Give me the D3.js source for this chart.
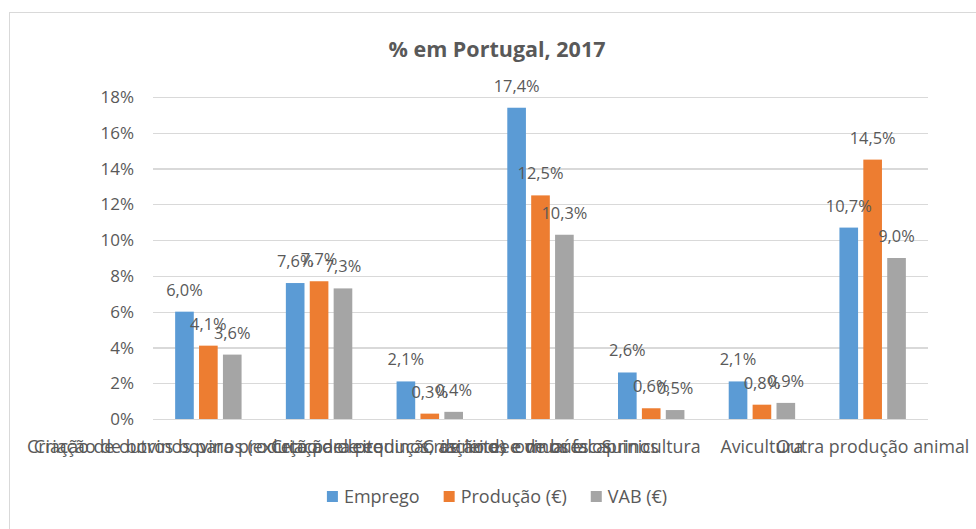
<!DOCTYPE html>
<html>
<head>
<meta charset="utf-8">
<style>
body { margin: 0; background: #fff; }
text { font-family: "Open Sans", sans-serif; fill: #595959; }
.grid line { stroke: #d9d9d9; stroke-width: 1.3; shape-rendering: crispEdges; }
.grid path { stroke-width: 0; }
</style>
<title>% em Portugal, 2017</title>
</head>
<body>
<script src="https://d3js.org/d3.v7.min.js"></script>
<script>

// data
var categories = [
  "Criação de bovinos para produção de leite",
  "Criação de outros bovinos (exceto para produção de leite) e de búfalos",
  "Criação de equinos, asininos e muares",
  "Criação de ovinos e caprinos",
  "Suinicultura",
  "Avicultura",
  "Outra produção animal"
];
var series = ["Emprego", "Produção (€)", "VAB (€)"];
var emprego  = [6.0, 7.6, 2.1, 17.4, 2.6, 2.1, 10.7];
var producao = [4.1, 7.7, 0.3, 12.5, 0.6, 0.8, 14.5];
var vab      = [3.6, 7.3, 0.4, 10.3, 0.5, 0.9, 9.0];
var yTicks = [0, 2, 4, 6, 8, 10, 12, 14, 16, 18];

var colors = ["#5b9bd5", "#ed7d31", "#a5a5a5"];
var values = [emprego, producao, vab];

const width = 976, height = 529;
const plot = {left: 153, right: 928, top: 97, bottom: 419};

var svg = d3.select("body").append("svg")
    .attr("width", width)
    .attr("height", height);

svg.append("rect")
    .attr("width", width).attr("height", height)
    .attr("fill", "#fff");

// chart frame (runs off the right and bottom edge)
svg.append("rect")
    .attr("x", 9.5).attr("y", 12.5)
    .attr("width", 1000).attr("height", 540)
    .attr("fill", "none")
    .attr("stroke", "#d9d9d9");

var x0 = d3.scaleBand()
    .domain(categories)
    .range([plot.left, plot.right]);

var bw = x0.bandwidth();
var x1 = d3.scaleBand()
    .domain(series)
    .range([bw * 0.2, bw * 0.8])
    .paddingInner(0.22);

var y = d3.scaleLinear()
    .domain([0, 18])
    .range([plot.bottom, plot.top]);

// gridlines
svg.append("g")
    .attr("class", "grid")
    .attr("transform", "translate(" + plot.left + ",0)")
    .call(d3.axisLeft(y).tickValues(yTicks)
        .tickSize(-(plot.right - plot.left))
        .tickFormat(""));

// y tick labels
svg.append("g")
  .selectAll("text")
    .data(yTicks)
  .enter().append("text")
    .attr("x", 134)
    .attr("y", d => y(d))
    .attr("dy", "0.36em")
    .attr("text-anchor", "end")
    .style("font-size", "17px")
    .text(d => d + "%");

// bars
var rows = [];
categories.forEach(function(c, i) {
  series.forEach(function(s, j) {
    rows.push({cat: c, ser: s, v: values[j][i], col: colors[j]});
  });
});

svg.append("g")
  .selectAll("rect")
    .data(rows)
  .enter().append("rect")
    .attr("x", d => x0(d.cat) + x1(d.ser))
    .attr("width", x1.bandwidth())
    .attr("y", d => y(d.v))
    .attr("height", d => y(0) - y(d.v))
    .attr("fill", d => d.col);

// data labels
svg.append("g")
  .selectAll("text")
    .data(rows)
  .enter().append("text")
    .attr("x", d => x0(d.cat) + x1(d.ser) + x1.bandwidth() / 2)
    .attr("y", d => y(d.v) - 16)
    .attr("text-anchor", "middle")
    .style("font-size", "16.4px")
    .text(d => d.v.toFixed(1).replace(".", ",") + "%");

// category labels (they overlap, as in the original)
svg.append("g")
  .selectAll("text")
    .data(categories)
  .enter().append("text")
    .attr("x", d => x0(d) + bw / 2)
    .attr("y", 453)
    .attr("text-anchor", "middle")
    .style("font-size", "17.8px")
    .text(d => d);

// title
svg.append("text")
    .attr("x", 497)
    .attr("y", 57)
    .attr("text-anchor", "middle")
    .style("font-size", "21.5px")
    .style("font-weight", "bold")
    .text("% em Portugal, 2017");

// legend
var legend = svg.append("g");
var lx = 0;
series.forEach(function(s, j) {
  var g = legend.append("g").attr("transform", "translate(" + lx + ",0)");
  g.append("rect")
      .attr("x", 0).attr("y", -6)
      .attr("width", 11).attr("height", 11)
      .attr("fill", colors[j]);
  var t = g.append("text")
      .attr("x", 17).attr("y", 0)
      .attr("dy", "0.36em")
      .style("font-size", "18px")
      .text(s);
  lx += 17 + t.node().getComputedTextLength() + 24;
});
lx -= 24;
legend.attr("transform", "translate(" + (497 - lx / 2) + ",497)");

</script>
</body>
</html>
